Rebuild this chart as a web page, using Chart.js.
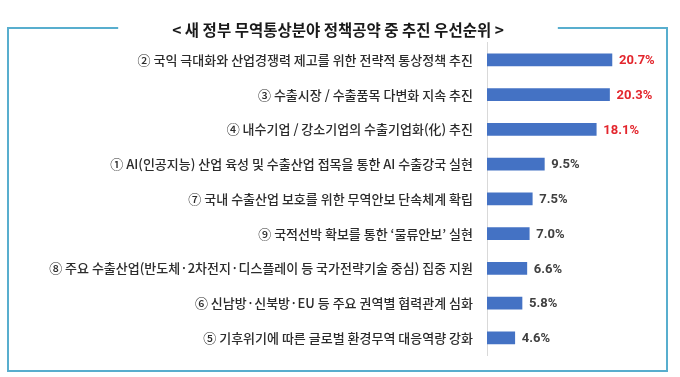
<!DOCTYPE html>
<html>
<head>
<meta charset="utf-8">
<script src="https://cdn.jsdelivr.net/npm/chart.js@4/dist/chart.umd.min.js"></script>
<style>
  html, body { margin: 0; padding: 0; background: #fff; }
  #wrap { position: relative; width: 680px; height: 377px; }
</style>
</head>
<body>
<div id="wrap"><canvas id="grafico"></canvas></div>
<script>
// 정책공약 항목 (위에서부터 순서대로)
const categorias = [
  '② 국익 극대화와 산업경쟁력 제고를 위한 전략적 통상정책 추진',
  '③ 수출시장 / 수출품목 다변화 지속 추진',
  '④ 내수기업 / 강소기업의 수출기업화(化) 추진',
  '① AI(인공지능) 산업 육성 및 수출산업 접목을 통한 AI 수출강국 실현',
  '⑦ 국내 수출산업 보호를 위한 무역안보 단속체계 확립',
  '⑨ 국적선박 확보를 통한 ‘물류안보’ 실현',
  '⑧ 주요 수출산업(반도체·2차전지·디스플레이 등 국가전략기술 중심) 집중 지원',
  '⑥ 신남방·신북방·EU 등 주요 권역별 협력관계 심화',
  '⑤ 기후위기에 따른 글로벌 환경무역 대응역량 강화'
];
const valores = [20.7, 20.3, 18.1, 9.5, 7.5, 7.0, 6.6, 5.8, 4.6];
const titulo = '< 새 정부 무역통상분야 정책공약 중 추진 우선순위 >';

const fonteKR = "'Noto Sans CJK KR', 'Noto Sans', sans-serif";
const destaque = 3; // top 3 in red

// box border with a gap for the title
const moldura = {
  id: 'moldura',
  beforeDraw(chart) {
    const ctx = chart.ctx;
    ctx.save();
    ctx.fillStyle = '#fff';
    ctx.fillRect(0, 0, chart.width, chart.height);
    ctx.font = 'bold 15.5px ' + fonteKR;
    const w = ctx.measureText(titulo).width;
    const cx = 338, gap = 54;
    const l = 8, r = 667, t = 28, b = 371;
    ctx.strokeStyle = '#58aece';
    ctx.lineWidth = 2;
    ctx.beginPath();
    ctx.moveTo(cx - w / 2 - gap, t);
    ctx.lineTo(l, t);
    ctx.lineTo(l, b);
    ctx.lineTo(r, b);
    ctx.lineTo(r, t);
    ctx.lineTo(cx + w / 2 + gap, t);
    ctx.stroke();
    ctx.restore();
  }
};

// percent labels next to the bars
const rotulos = {
  id: 'rotulos',
  afterDatasetsDraw(chart) {
    const ctx = chart.ctx;
    const meta = chart.getDatasetMeta(0);
    ctx.save();
    ctx.font = "bold 13px 'Liberation Sans Narrow', Roboto, sans-serif";
    ctx.textBaseline = 'middle';
    ctx.textAlign = 'left';
    meta.data.forEach((bar, i) => {
      ctx.fillStyle = i < destaque ? '#e3262d' : '#404040';
      ctx.fillText(valores[i].toFixed(1) + '%', bar.x + 7, bar.y + 1);
    });
    ctx.restore();
  }
};

const graph = new Chart(document.getElementById('grafico').getContext('2d'), {
  type: 'bar',
  data: {
    labels: categorias,
    datasets: [{
      data: valores,
      backgroundColor: '#4472c4',
      borderWidth: 0,
      barThickness: 12
    }]
  },
  options: {
    indexAxis: 'y',
    responsive: true,
    maintainAspectRatio: false,
    animation: false,
    layout: { padding: { top: 0, right: 24, bottom: 18.5, left: 20 } },
    plugins: {
      legend: { display: false },
      tooltip: { enabled: false },
      title: {
        display: true,
        text: titulo,
        color: '#1a1a1a',
        font: { family: fonteKR, size: 15.5, weight: 'bold', lineHeight: 1.2 },
        padding: { top: 20.7, bottom: 3.2 }
      }
    },
    scales: {
      x: { display: false, min: 0, max: 28 },
      y: {
        afterFit(scale) { scale.width = 467; },
        grid: { display: false, drawTicks: false },
        border: { display: true, color: '#d9d9d9', width: 1 },
        ticks: {
          padding: 14,
          color: '#2b2b2b',
          autoSkip: false,
          font: { family: fonteKR, size: 13, weight: '500' }
        }
      }
    }
  },
  plugins: [moldura, rotulos]
});
</script>
</body>
</html>
